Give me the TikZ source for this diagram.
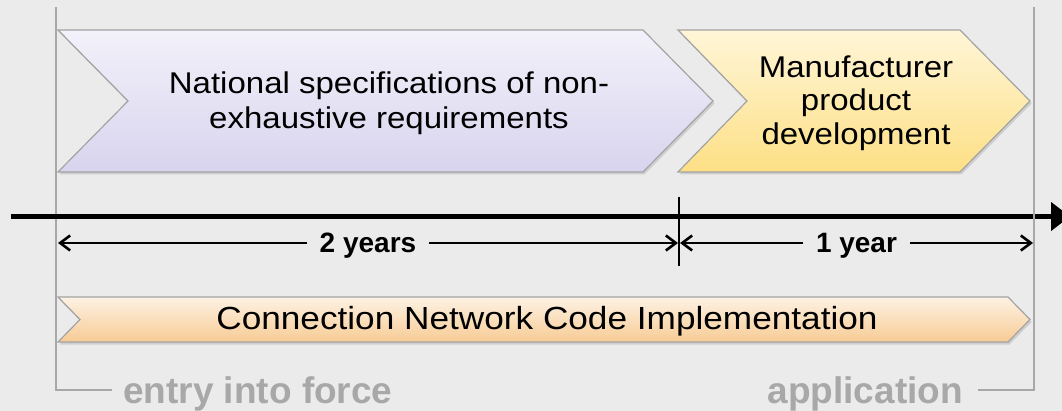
\documentclass[tikz,border=0pt]{standalone}
\usepackage{fontspec}
\setmainfont{Liberation Sans}
\newfontfamily\widesans[FakeStretch=1.1]{Liberation Sans}
\usetikzlibrary{arrows.meta}

\definecolor{bg}{HTML}{EBEBEB}
\definecolor{bracketgray}{HTML}{A8A8A8}
\definecolor{edgegray}{HTML}{A3A3A3}
\definecolor{lavtop}{HTML}{F3F1FA}
\definecolor{lavbot}{HTML}{D8D4EE}
\definecolor{goldtop}{HTML}{FFF6D8}
\definecolor{goldbot}{HTML}{FDDF85}
\definecolor{peachtop}{HTML}{FDF2E4}
\definecolor{peachbot}{HTML}{F7CB94}

\begin{document}
\begin{tikzpicture}[x=1pt,y=-1pt,
  phase/.style={draw=edgegray, line width=1.2pt, line join=miter},
  phaseshadow/.style={fill=black, opacity=0.12},
  phasetext/.style={align=center, inner sep=0pt, text=black},
  timeline/.style={line width=4.5pt, -{Triangle[length=19pt,width=28pt]}},
  ticker/.style={line width=2.8pt},
  dimline/.style={line width=2.6pt, {Straight Barb[length=10pt,width=15pt]}-{Straight Barb[length=10pt,width=15pt]}},
  dimlbl/.style={fill=bg, font=\fontsize{28}{30}\selectfont\bfseries,
                 text height=20pt, text depth=0pt, inner xsep=13pt, inner ysep=2pt},
  bracket/.style={draw=bracketgray, line width=2.6pt},
  milestone/.style={text=bracketgray, font=\fontsize{37}{40}\selectfont\bfseries, inner sep=0pt}
]
% canvas
\fill[bg] (0,0) rectangle (1062,411);
\useasboundingbox (0,0) rectangle (1062,411);

% brackets marking entry into force and application
\coordinate (lbT) at (56,7);
\coordinate (lbC) at (56,390);
\coordinate (lbE) at (112,390);
\coordinate (rbT) at (1034,7);
\coordinate (rbC) at (1034,390);
\coordinate (rbE) at (978,390);
\draw[bracket] (lbT) -- (lbC) -- (lbE);
\node[milestone, anchor=base west] (entry) at (123,403) {entry into force};
\node[milestone, anchor=base east] (appl) at (963,403) {application};

% phase 1: national specifications
\fill[phaseshadow] (59.5,32.5) -- (644.5,32.5) -- (714.5,103.5) -- (644.5,174.5) -- (59.5,174.5) -- (129.5,103.5) -- cycle;
\shade[phase, top color=lavtop, bottom color=lavbot]
  (58,30) -- (643,30) -- (713,101) -- (643,172) -- (58,172) -- (128,101) -- cycle;
\node[phasetext, font=\widesans\fontsize{30}{35}\selectfont] (natspec) at (389,103)
  {National specifications of non-\\exhaustive requirements};

% phase 2: manufacturer product development
\fill[phaseshadow] (679.5,32.5) -- (961.5,32.5) -- (1031.5,103.5) -- (961.5,174.5) -- (679.5,174.5) -- (748.5,103.5) -- cycle;
\shade[phase, top color=goldtop, bottom color=goldbot]
  (678,30) -- (960,30) -- (1030,101) -- (960,172) -- (678,172) -- (747,101) -- cycle;
\node[phasetext, font=\widesans\fontsize{30}{33.5}\selectfont] (manuf) at (856,103)
  {Manufacturer\\product\\development};

% time axis
\coordinate (tl0) at (11,216.5);
\coordinate (tl1) at (1070,216.5);
\draw[timeline] (tl0) -- (tl1);
\coordinate (tkT) at (679,197);
\coordinate (tkB) at (679,266);
\draw[ticker] (tkT) -- (tkB);
\draw[bracket] (rbT) -- (rbC) -- (rbE);

% durations
\coordinate (d0) at (58,243);
\coordinate (d1) at (678,243);
\coordinate (d2) at (680,243);
\coordinate (d3) at (1033,243);
\draw[dimline] (d0) -- node[dimlbl] (two) {2 years} (d1);
\draw[dimline] (d2) -- node[dimlbl] (one) {1 year} (d3);

% overall implementation period
\fill[phaseshadow] (59.5,299.5) -- (1009.5,299.5) -- (1031.5,322) -- (1009.5,344.5) -- (59.5,344.5) -- (81.5,322) -- cycle;
\shade[phase, top color=peachtop, bottom color=peachbot]
  (58,297) -- (1008,297) -- (1030,319.5) -- (1008,342) -- (58,342) -- (80,319.5) -- cycle;
\node[phasetext, font=\widesans\fontsize{32}{34}\selectfont, anchor=base] (cnc) at (547,330)
  {Connection Network Code Implementation};
\end{tikzpicture}
\end{document}
